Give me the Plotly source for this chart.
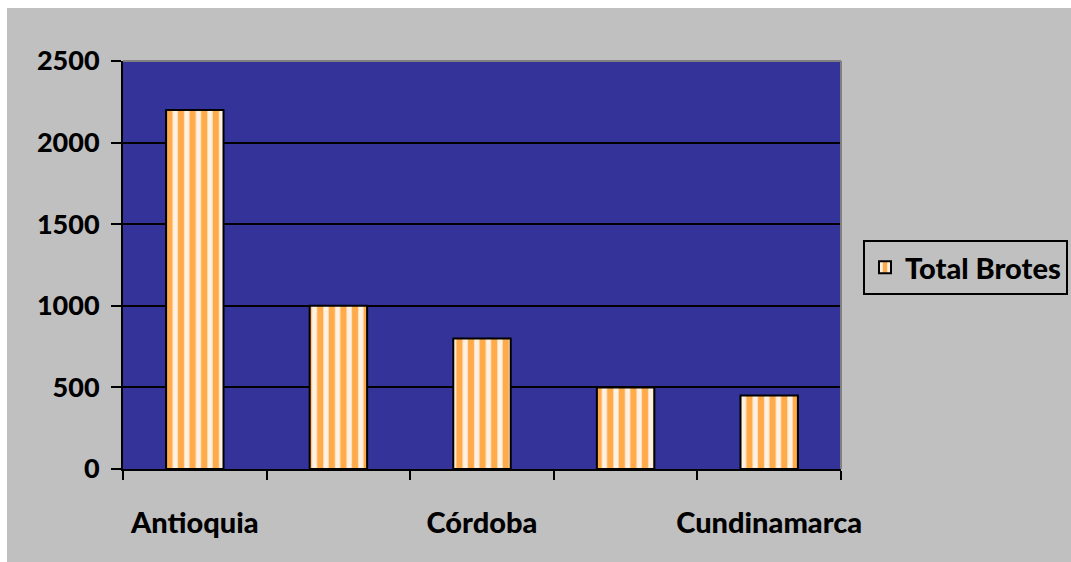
import plotly.graph_objects as go

# Outbreak totals per department (unlabelled slots keep their bar)
departments = ["Antioquia", None, "Córdoba", None, "Cundinamarca"]
total_brotes = [2200, 1000, 800, 500, 450]
y_ticks = [0, 500, 1000, 1500, 2000, 2500]

x_pos = list(range(len(total_brotes)))
label_pos = [i for i, d in enumerate(departments) if d]
label_text = [d for d in departments if d]
boundaries = [i - 0.5 for i in range(len(total_brotes) + 1)]

FONT = dict(family="Lato", size=29, color="black", weight=900)
YFONT = dict(FONT, size=27)

W, H = 1071, 562
L, R, T, B = 123, 230, 61, 93
pw, ph = W - L - R, H - T - B

fig = go.Figure(
    go.Bar(
        x=x_pos,
        y=total_brotes,
        name="Total Brotes",
        width=0.4,
        showlegend=True,
        marker=dict(
            color="#ffb25a",
            line=dict(color="black", width=2),
            pattern=dict(shape="|", fgcolor="#fff2e4", bgcolor="#ffab4a",
                         size=11.6, solidity=0.45, fillmode="replace"),
        ),
    )
)

fig.update_layout(
    width=W,
    height=H,
    margin=dict(l=L, r=R, t=T, b=B, autoexpand=False),
    paper_bgcolor="#c0c0c0",
    plot_bgcolor="#333399",
    font=FONT,
    showlegend=True,
    legend=dict(
        x=(863 - L) / pw, y=(H - B - 240) / ph,
        xanchor="left", yanchor="top",
        bgcolor="#c0c0c0", bordercolor="black", borderwidth=2,
        font=FONT,
    ),
    shapes=[
        # white page margin on top and left
        dict(type="rect", xref="paper", yref="paper", layer="above",
             x0=-L / pw, x1=(W - L) / pw,
             y0=(H - B - 8) / ph, y1=(H - B) / ph,
             fillcolor="white", line=dict(width=0)),
        dict(type="rect", xref="paper", yref="paper", layer="above",
             x0=-L / pw, x1=-(L - 7) / pw,
             y0=-B / ph, y1=(H - B) / ph,
             fillcolor="white", line=dict(width=0)),
        # plot-area border on top and right
        dict(type="line", xref="paper", yref="paper", x0=0, x1=1, y0=1, y1=1,
             line=dict(color="#808080", width=2)),
        dict(type="line", xref="paper", yref="paper", x0=1, x1=1, y0=0, y1=1,
             line=dict(color="#808080", width=2)),
    ],
)

fig.update_yaxes(
    range=[0, 2500],
    tickvals=y_ticks,
    showgrid=True, gridcolor="black", gridwidth=2,
    zeroline=False,
    showline=True, linecolor="black", linewidth=2,
    ticks="outside", ticklen=10, tickwidth=2, tickcolor="black",
    ticklabelstandoff=6,
    tickfont=YFONT,
)

fig.update_xaxes(
    range=[-0.5, len(total_brotes) - 0.5],
    tickvals=label_pos,
    ticktext=label_text,
    ticks="",
    showgrid=False,
    zeroline=False,
    showline=True, linecolor="black", linewidth=2,
    ticklabelstandoff=27,
    tickfont=FONT,
    minor=dict(tickvals=boundaries, ticks="outside", ticklen=9,
               tickwidth=2, tickcolor="black", showgrid=False),
)

fig.write_html("out.html")
